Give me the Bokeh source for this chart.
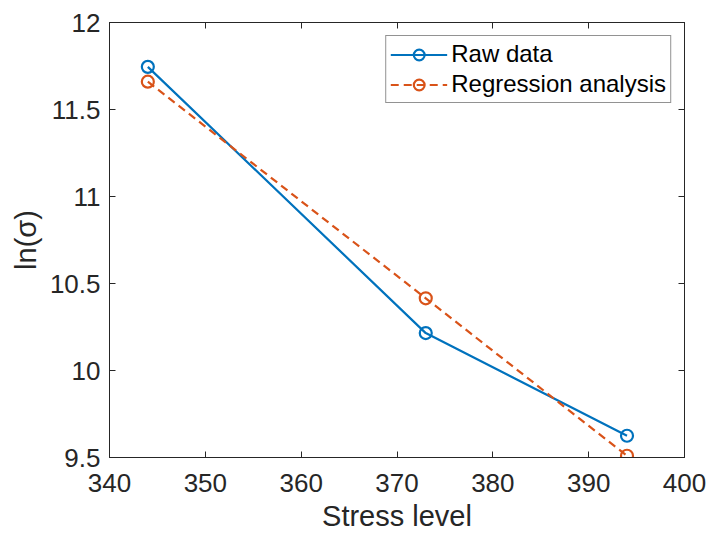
from bokeh.plotting import figure
from bokeh.models import Range1d, FixedTicker, LinearAxis, Legend, LegendItem
from bokeh.embed import file_html
from bokeh.resources import INLINE

stress = [344, 373, 394]
raw_ln_sigma = [11.745, 10.215, 9.625]
reg_ln_sigma = [11.66, 10.415, 9.51]

x_ticks = [340, 350, 360, 370, 380, 390, 400]
y_ticks = [9.5, 10, 10.5, 11, 11.5, 12]
y_tick_labels = ["9.5", "10", "10.5", "11", "11.5", "12"]
x_min, x_max = 340, 400
y_min, y_max = 9.5, 12

FONT = "Liberation Sans"
AX = "#262626"
BLUE = "#0072BD"
ORANGE = "#D95319"

p = figure(width=708, height=534, output_backend="svg", toolbar_location=None,
           x_range=Range1d(x_min, x_max), y_range=Range1d(y_min, y_max),
           min_border_left=109, min_border_right=24, min_border_top=22, min_border_bottom=77)
p.grid.visible = False
p.outline_line_color = AX
p.outline_line_width = 1
p.background_fill_color = "white"
p.border_fill_color = "white"

l1 = p.line(stress, raw_ln_sigma, line_color=BLUE, line_width=2.2)
m1 = p.scatter(stress, raw_ln_sigma, marker="circle", size=12, fill_color=None,
               line_color=BLUE, line_width=2.2)
l2 = p.line(stress, reg_ln_sigma, line_color=ORANGE, line_width=2.2, line_dash="8 5")
m2 = p.scatter(stress, reg_ln_sigma, marker="circle", size=12, fill_color=None,
               line_color=ORANGE, line_width=2.2)

def style_axis(ax, ticks, show_labels=True):
    ax.ticker = FixedTicker(ticks=ticks)
    ax.major_tick_in = 6
    ax.major_tick_out = 0
    ax.minor_tick_line_color = None
    ax.major_tick_line_color = AX
    ax.axis_line_color = AX
    ax.major_label_text_font = FONT
    if show_labels:
        ax.major_label_text_font_size = "26px"
        ax.major_label_text_color = AX
    else:
        ax.major_label_text_font_size = "1px"
        ax.major_label_text_color = None
        ax.major_label_standoff = 0

xa = p.xaxis[0]
style_axis(xa, x_ticks)
xa.major_label_standoff = 16
xa.axis_label = "Stress level"
xa.axis_label_text_font = FONT
xa.axis_label_text_font_size = "29px"
xa.axis_label_text_font_style = "normal"
xa.axis_label_text_color = AX
xa.axis_label_standoff = 5
xa.axis_label_text_line_height = 0.9

ya = p.yaxis[0]
style_axis(ya, y_ticks)
ya.major_label_overrides = {t: s for t, s in zip(y_ticks, y_tick_labels)}
ya.major_label_standoff = 9
ya.axis_label = "ln(σ)"
ya.axis_label_text_font = FONT
ya.axis_label_text_font_size = "29px"
ya.axis_label_text_font_style = "normal"
ya.axis_label_text_color = AX
ya.axis_label_standoff = 5

top = LinearAxis()
style_axis(top, x_ticks, show_labels=False)
p.add_layout(top, "above")
right = LinearAxis()
style_axis(right, y_ticks, show_labels=False)
p.add_layout(right, "right")

legend = Legend(items=[LegendItem(label="Raw data", renderers=[l1, m1]),
                       LegendItem(label="Regression analysis", renderers=[l2, m2])],
                location="top_right")
legend.label_text_font = FONT
legend.label_text_font_size = "24px"
legend.label_text_color = "black"
legend.border_line_color = "#262626"
legend.border_line_width = 1
legend.glyph_width = 57
legend.glyph_height = 27
legend.label_standoff = 4
legend.spacing = 2
legend.padding = 4
legend.margin = 13
legend.label_height = 27
p.add_layout(legend, "center")

open("out.html", "w").write(file_html(p, INLINE))
